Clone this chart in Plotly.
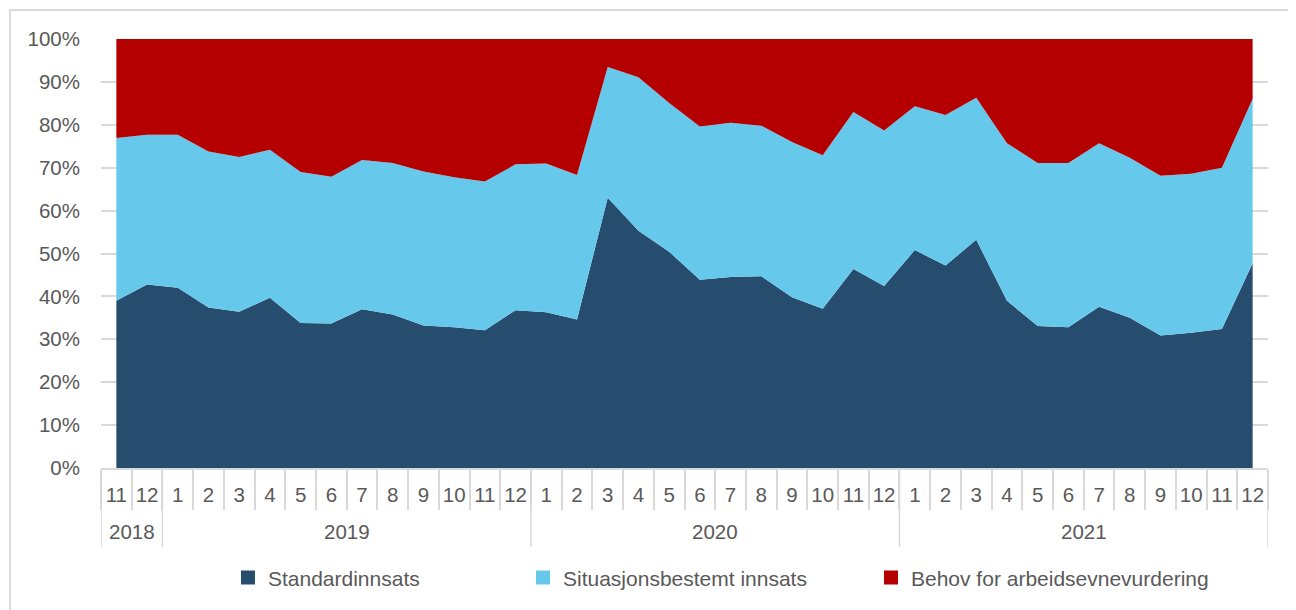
import plotly.graph_objects as go

# Kategorier (aar / maaned)
aar_etiketter = ["2018", "2019", "2020", "2021"]
maaneder_per_aar = [2, 12, 12, 12]
maaned = ["11", "12"] + [str(m) for m in range(1, 13)] * 3

# Andeler i prosent
standardinnsats = [39.0, 42.8, 42.0, 37.4, 36.4, 39.7, 33.8, 33.7, 37.0, 35.8, 33.2, 32.8, 32.1, 36.8,
                   36.3, 34.6, 63.0, 55.3, 50.4, 43.9, 44.5, 44.7, 39.8, 37.1, 46.4, 42.4,
                   50.8, 47.2, 53.2, 39.0, 33.1, 32.8, 37.6, 35.0, 30.9, 31.5, 32.4, 47.7]
situasjonsbestemt = [37.9, 34.9, 35.7, 36.4, 36.1, 34.5, 35.2, 34.2, 34.8, 35.3, 35.9, 35.0, 34.7, 34.0,
                     34.7, 33.7, 30.5, 35.8, 34.7, 35.7, 36.0, 35.1, 36.2, 35.8, 36.6, 36.3,
                     33.5, 35.1, 33.1, 36.7, 38.0, 38.3, 38.1, 37.3, 37.2, 37.1, 37.6, 38.4]
behov_aev = [23.1, 22.3, 22.3, 26.2, 27.5, 25.8, 31.0, 32.1, 28.2, 28.9, 30.9, 32.2, 33.2, 29.2,
             29.0, 31.7, 6.5, 8.9, 14.9, 20.4, 19.5, 20.2, 24.0, 27.1, 17.0, 21.3,
             15.7, 17.7, 13.7, 24.3, 28.9, 28.9, 24.3, 27.7, 31.9, 31.4, 30.0, 13.9]

serier = [
    ("Standardinnsats", standardinnsats, "#264C6E"),
    ("Situasjonsbestemt innsats", situasjonsbestemt, "#66C9EC"),
    ("Behov for arbeidsevnevurdering", behov_aev, "#B40000"),
]

x = list(range(len(maaned)))
grid = "#D9D9D9"
tekst = "#595959"

fig = go.Figure()

# Stablede arealer
for navn, verdier, farge in serier:
    fig.add_trace(go.Scatter(
        x=x, y=verdier,
        mode="lines", stackgroup="one",
        line=dict(width=0, color=farge), fillcolor=farge,
        name=navn, showlegend=False, hoverinfo="skip"))

# Firkantede symboler i tegnforklaringen (en egen legend per serie)
legend_navn = ["legend", "legend2", "legend3"]
for (navn, verdier, farge), lg in zip(serier, legend_navn):
    fig.add_trace(go.Scatter(
        x=[None], y=[None],
        mode="markers", marker=dict(symbol="square", size=14, color=farge),
        name=navn, showlegend=True, hoverinfo="skip", legend=lg))

# Aarsgrupper: skillelinjer og etiketter under maanedene
shapes = []
annotations = []
start = -0.5
grenser = [start]
for etikett, n in zip(aar_etiketter, maaneder_per_aar):
    slutt = start + n
    grenser.append(slutt)
    annotations.append(dict(x=(start + slutt) / 2, y=-0.149, xref="x", yref="paper",
                            text=etikett, showarrow=False, yanchor="middle",
                            font=dict(size=20.5, color=tekst)))
    start = slutt
for g in grenser:
    shapes.append(dict(type="line", xref="x", yref="paper", x0=g, x1=g, y0=0, y1=-0.184,
                       line=dict(color=grid, width=1.5)))

# Ramme rundt diagrammet
shapes.append(dict(type="rect", xref="paper", yref="paper",
                   x0=-0.078, x1=1.1, y0=-0.4, y1=1.0676,
                   line=dict(color=grid, width=2), layer="below"))

def legend_stil(xpos):
    return dict(orientation="h", x=xpos, y=-0.256, xanchor="left", yanchor="middle",
                font=dict(size=21, color=tekst), bgcolor="rgba(0,0,0,0)")

fig.update_layout(
    width=1296, height=610,
    margin=dict(l=93, r=36, t=31, b=150),
    paper_bgcolor="white", plot_bgcolor="white",
    font=dict(family="Liberation Sans, Arial, sans-serif", size=20.5, color=tekst),
    showlegend=True,
    legend=legend_stil(0.1088),
    legend2=legend_stil(0.3616),
    legend3=legend_stil(0.6598),
    xaxis=dict(range=[-0.5, len(maaned) - 0.5], showgrid=False, zeroline=False,
               showline=True, linecolor=grid, linewidth=1.5,
               tickmode="array", tickvals=x, ticktext=maaned, ticks="",
               ticklabelstandoff=8,
               minor=dict(tickmode="array", tickvals=[i - 0.5 for i in range(len(maaned) + 1)],
                          ticks="outside", ticklen=40, tickcolor=grid, tickwidth=1.5,
                          showgrid=False)),
    yaxis=dict(range=[0, 100], dtick=10, ticksuffix="%", showgrid=True, gridcolor=grid, gridwidth=1.5,
               zeroline=False, showline=False, ticklabelstandoff=20),
    shapes=shapes,
    annotations=annotations,
)

fig.write_html("out.html")
